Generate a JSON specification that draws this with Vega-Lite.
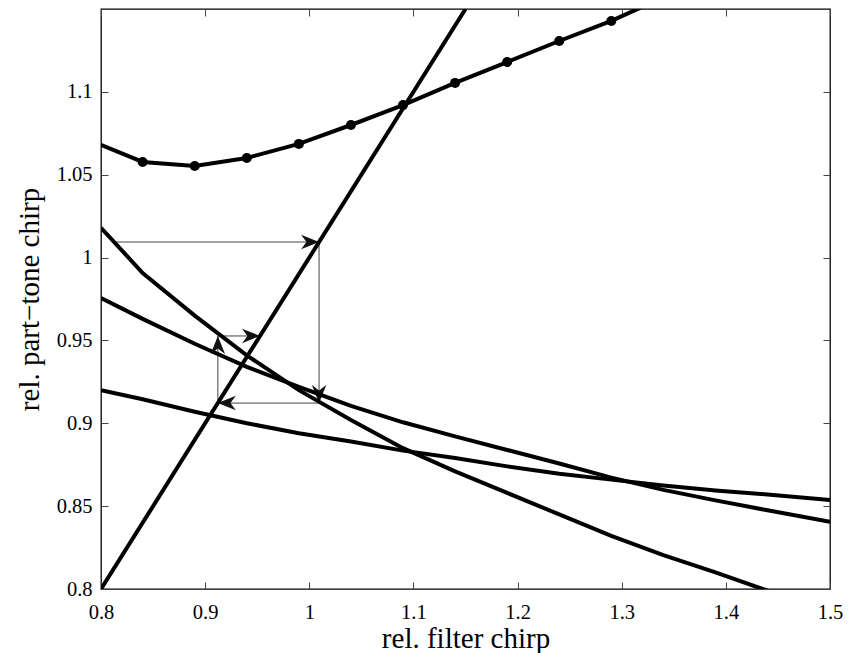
{
  "$schema": "https://vega.github.io/schema/vega-lite/v6.json",
  "width": 729,
  "height": 580,
  "autosize": {"type": "none"},
  "padding": {"left": 101, "top": 9, "right": 27, "bottom": 64},
  "background": "white",
  "config": {
    "view": {"stroke": "#000", "strokeWidth": 1.3},
    "font": "Liberation Serif",
    "axis": {
      "labelFont": "Liberation Serif",
      "titleFont": "Liberation Serif",
      "labelFontSize": 20.5,
      "titleFontSize": 29,
      "titleFontWeight": "normal",
      "labelColor": "#000",
      "titleColor": "#000",
      "labelFlush": false,
      "labelOverlap": false,
      "domain": false,
      "tickColor": "#444",
      "tickWidth": 1,
      "tickSize": 7,
      "grid": false
    }
  },
  "datasets": {
    "lines": [
      {"curve": "identity", "x": 0.8, "y": 0.8},
      {"curve": "identity", "x": 1.15, "y": 1.15},
      {"curve": "A", "x": 0.8, "y": 1.018},
      {"curve": "A", "x": 0.84, "y": 0.9907},
      {"curve": "A", "x": 0.89, "y": 0.965},
      {"curve": "A", "x": 0.94, "y": 0.941},
      {"curve": "A", "x": 0.99, "y": 0.92},
      {"curve": "A", "x": 1.04, "y": 0.902},
      {"curve": "A", "x": 1.09, "y": 0.885},
      {"curve": "A", "x": 1.14, "y": 0.871},
      {"curve": "A", "x": 1.19, "y": 0.858},
      {"curve": "A", "x": 1.24, "y": 0.845},
      {"curve": "A", "x": 1.29, "y": 0.832},
      {"curve": "A", "x": 1.34, "y": 0.8205},
      {"curve": "A", "x": 1.39, "y": 0.81},
      {"curve": "A", "x": 1.44, "y": 0.799},
      {"curve": "A", "x": 1.49, "y": 0.789},
      {"curve": "B", "x": 0.8, "y": 0.9756},
      {"curve": "B", "x": 0.84, "y": 0.963},
      {"curve": "B", "x": 0.89, "y": 0.948},
      {"curve": "B", "x": 0.94, "y": 0.934},
      {"curve": "B", "x": 0.99, "y": 0.922},
      {"curve": "B", "x": 1.04, "y": 0.9105},
      {"curve": "B", "x": 1.09, "y": 0.9006},
      {"curve": "B", "x": 1.14, "y": 0.8921},
      {"curve": "B", "x": 1.19, "y": 0.8839},
      {"curve": "B", "x": 1.24, "y": 0.8757},
      {"curve": "B", "x": 1.29, "y": 0.8672},
      {"curve": "B", "x": 1.34, "y": 0.8598},
      {"curve": "B", "x": 1.39, "y": 0.8535},
      {"curve": "B", "x": 1.44, "y": 0.8475},
      {"curve": "B", "x": 1.5, "y": 0.8406},
      {"curve": "C", "x": 0.8, "y": 0.92},
      {"curve": "C", "x": 0.84, "y": 0.9145},
      {"curve": "C", "x": 0.89, "y": 0.907},
      {"curve": "C", "x": 0.94, "y": 0.9},
      {"curve": "C", "x": 0.99, "y": 0.894},
      {"curve": "C", "x": 1.04, "y": 0.889},
      {"curve": "C", "x": 1.09, "y": 0.8835},
      {"curve": "C", "x": 1.14, "y": 0.879},
      {"curve": "C", "x": 1.19, "y": 0.874},
      {"curve": "C", "x": 1.24, "y": 0.8695},
      {"curve": "C", "x": 1.29, "y": 0.866},
      {"curve": "C", "x": 1.34, "y": 0.8625},
      {"curve": "C", "x": 1.39, "y": 0.8595},
      {"curve": "C", "x": 1.44, "y": 0.857},
      {"curve": "C", "x": 1.5, "y": 0.8537}
    ],
    "marked": [
      {"x": 0.79, "y": 1.0706},
      {"x": 0.84, "y": 1.0577},
      {"x": 0.89, "y": 1.0553},
      {"x": 0.94, "y": 1.0601},
      {"x": 0.99, "y": 1.0686},
      {"x": 1.04, "y": 1.08},
      {"x": 1.09, "y": 1.092},
      {"x": 1.14, "y": 1.1054},
      {"x": 1.19, "y": 1.118},
      {"x": 1.24, "y": 1.1307},
      {"x": 1.29, "y": 1.1428},
      {"x": 1.34, "y": 1.157}
    ],
    "cobweb": [
      {"step": 0, "x": 0.8126, "y": 1.0094, "dir": null},
      {"step": 1, "x": 1.0094, "y": 1.0094, "dir": "right"},
      {"step": 2, "x": 1.0094, "y": 0.9122, "dir": "down"},
      {"step": 3, "x": 0.9122, "y": 0.9122, "dir": "left"},
      {"step": 4, "x": 0.9122, "y": 0.9527, "dir": "up"},
      {"step": 5, "x": 0.9527, "y": 0.9527, "dir": "right"}
    ]
  },
  "layer": [
    {
      "data": {"name": "cobweb"},
      "mark": {"type": "line", "color": "#444", "strokeWidth": 1, "clip": true},
      "encoding": {
        "x": {"field": "x", "type": "quantitative", "scale": {"domain": [0.8, 1.5], "nice": false, "zero": false},
          "axis": {"orient": "bottom", "title": "rel. filter chirp", "values": [0.8, 0.9, 1.0, 1.1, 1.2, 1.3, 1.4, 1.5], "format": "~g", "ticks": false, "labelPadding": 13, "titlePadding": 2}},
        "y": {"field": "y", "type": "quantitative", "scale": {"domain": [0.8, 1.15], "nice": false, "zero": false},
          "axis": {"orient": "left", "title": "rel. part−tone chirp", "values": [0.8, 0.85, 0.9, 0.95, 1.0, 1.05, 1.1], "format": "~g", "ticks": false, "labelPadding": 9, "titlePadding": 12}},
        "order": {"field": "step", "type": "quantitative"}
      }
    },
    {
      "data": {"name": "cobweb"},
      "transform": [{"filter": "isValid(datum.dir)"}],
      "mark": {"type": "point", "filled": true, "color": "#111", "opacity": 1, "size": 1296, "strokeWidth": 0, "clip": true},
      "encoding": {
        "x": {"field": "x", "type": "quantitative",
          "axis": {"orient": "top", "offset": -580, "title": null, "labels": false, "values": [0.8, 0.9, 1.0, 1.1, 1.2, 1.3, 1.4, 1.5]}},
        "y": {"field": "y", "type": "quantitative",
          "axis": {"orient": "right", "offset": -729, "title": null, "labels": false, "values": [0.8, 0.85, 0.9, 0.95, 1.0, 1.05, 1.1]}},
        "shape": {"field": "dir", "type": "nominal", "legend": null,
          "scale": {"domain": ["up", "right", "down", "left"],
            "range": ["M0,0L0.4,1L0,0.7L-0.4,1Z", "M0,0L-1,0.4L-0.7,0L-1,-0.4Z", "M0,0L0.4,-1L0,-0.7L-0.4,-1Z", "M0,0L1,0.4L0.7,0L1,-0.4Z"]}}
      }
    },
    {
      "data": {"name": "lines"},
      "mark": {"type": "line", "color": "#000", "strokeWidth": 4, "clip": true},
      "encoding": {
        "x": {"field": "x", "type": "quantitative",
          "axis": {"orient": "bottom", "offset": -580, "title": null, "labels": false, "values": [0.8, 0.9, 1.0, 1.1, 1.2, 1.3, 1.4, 1.5]}},
        "y": {"field": "y", "type": "quantitative",
          "axis": {"orient": "left", "offset": -729, "title": null, "labels": false, "values": [0.8, 0.85, 0.9, 0.95, 1.0, 1.05, 1.1]}},
        "detail": {"field": "curve", "type": "nominal"}
      }
    },
    {
      "data": {"name": "marked"},
      "mark": {"type": "line", "color": "#000", "strokeWidth": 4, "clip": true, "point": {"filled": true, "color": "#000", "size": 100, "opacity": 1}},
      "encoding": {
        "x": {"field": "x", "type": "quantitative", "axis": null},
        "y": {"field": "y", "type": "quantitative", "axis": null}
      }
    }
  ],
  "resolve": {"axis": {"x": "independent", "y": "independent"}}
}
